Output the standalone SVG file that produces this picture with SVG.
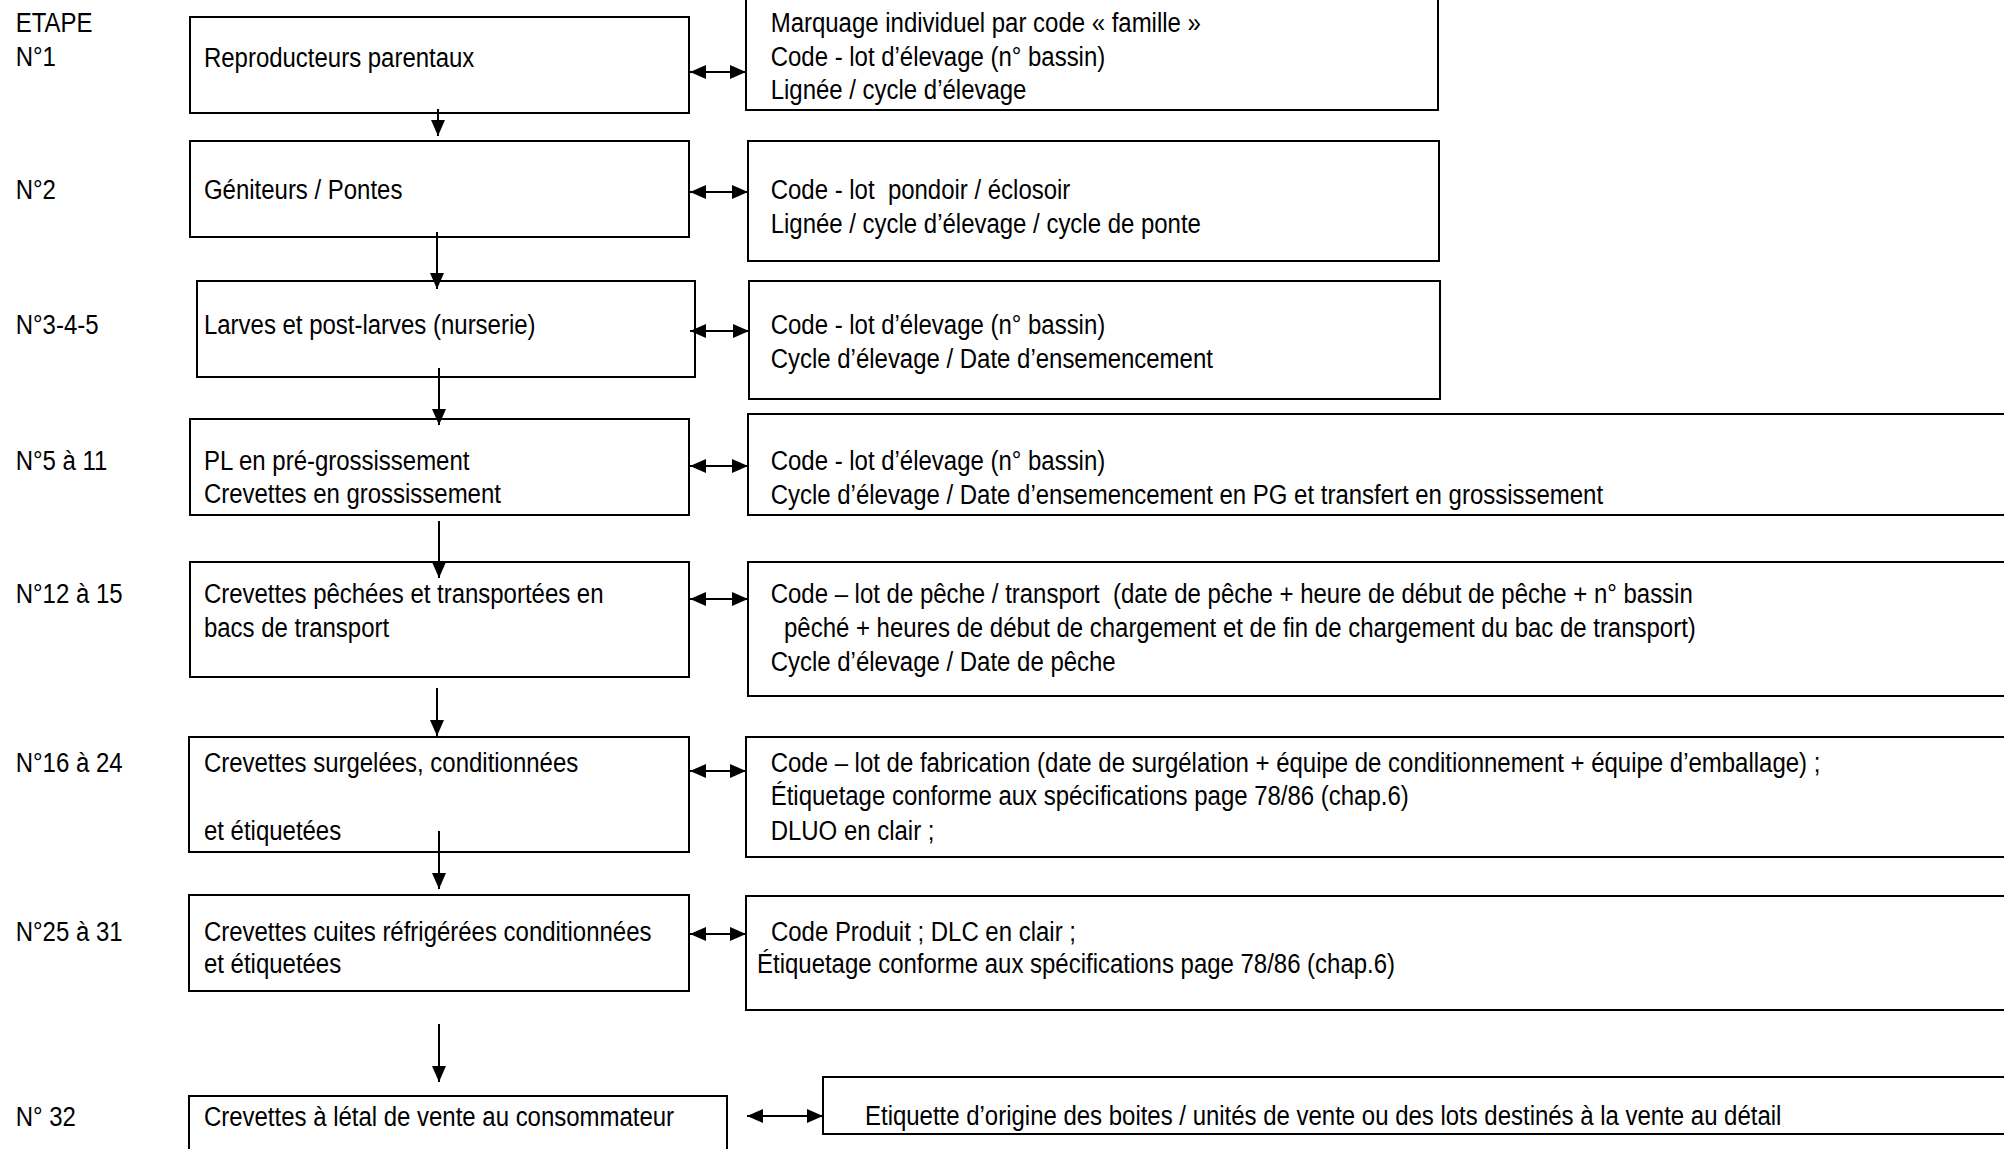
<svg xmlns="http://www.w3.org/2000/svg" width="2004" height="1149" viewBox="0 0 2004 1149">
<defs>
<style>
text{font-family:"Liberation Sans",Arial,sans-serif;font-size:27px;fill:#000}
.box{fill:#fff;stroke:#000;stroke-width:2}
.con{stroke:#000;stroke-width:2;fill:none}
</style>
<marker id="ah" viewBox="0 0 16 14" refX="16" refY="7" markerWidth="16" markerHeight="14" markerUnits="userSpaceOnUse" orient="auto-start-reverse"><path d="M0,0 L16,7 L0,14 z" fill="#000"/></marker>
</defs>
<rect width="2004" height="1149" fill="#fff"/>
<g id="labels" transform="scale(0.888 1)">
<text x="17.7" y="32">ETAPE</text>
<text x="17.7" y="66">N°1</text>
<text x="17.7" y="199">N°2</text>
<text x="17.7" y="334">N°3-4-5</text>
<text x="17.7" y="470">N°5 à 11</text>
<text x="17.7" y="603">N°12 à 15</text>
<text x="17.7" y="772">N°16 à 24</text>
<text x="17.7" y="941">N°25 à 31</text>
<text x="17.7" y="1126">N° 32</text>
</g>
<g id="L1"><rect class="box" x="190" y="17" width="499" height="96"/><g transform="scale(0.888 1)"><text x="229.7" y="67">Reproducteurs parentaux</text></g></g>
<g id="L2"><rect class="box" x="190" y="141" width="499" height="96"/><g transform="scale(0.888 1)"><text x="229.7" y="199">Géniteurs / Pontes</text></g></g>
<g id="L3"><rect class="box" x="197" y="281" width="498" height="96"/><g transform="scale(0.888 1)"><text x="229.7" y="334">Larves et post-larves (nurserie)</text></g></g>
<g id="L4"><rect class="box" x="190" y="419" width="499" height="96"/><g transform="scale(0.888 1)"><text x="229.7" y="470">PL en pré-grossissement</text><text x="229.7" y="503">Crevettes en grossissement</text></g></g>
<g id="L5"><rect class="box" x="190" y="562" width="499" height="115"/><g transform="scale(0.888 1)"><text x="229.7" y="603">Crevettes pêchées et transportées en</text><text x="229.7" y="637">bacs de transport</text></g></g>
<g id="L6"><rect class="box" x="189" y="737" width="500" height="115"/><g transform="scale(0.888 1)"><text x="229.7" y="772">Crevettes surgelées, conditionnées</text><text x="229.7" y="840">et étiquetées</text></g></g>
<g id="L7"><rect class="box" x="189" y="895" width="500" height="96"/><g transform="scale(0.888 1)"><text x="229.7" y="941">Crevettes cuites réfrigérées conditionnées</text><text x="229.7" y="973">et étiquetées</text></g></g>
<g id="L8"><rect class="box" x="189" y="1096" width="538" height="70"/><g transform="scale(0.888 1)"><text x="229.7" y="1126">Crevettes à létal de vente au consommateur</text></g></g>
<g id="R1"><rect class="box" x="746" y="-5" width="692" height="115"/><g transform="scale(0.888 1)"><text x="867.9" y="32">Marquage individuel par code « famille »</text><text x="867.9" y="66">Code - lot d’élevage (n° bassin)</text><text x="867.9" y="99">Lignée / cycle d’élevage</text></g></g>
<g id="R2"><rect class="box" x="748" y="141" width="691" height="120"/><g transform="scale(0.888 1)"><text x="867.9" y="199" xml:space="preserve">Code - lot  pondoir / éclosoir</text><text x="867.9" y="233">Lignée / cycle d’élevage / cycle de ponte</text></g></g>
<g id="R3"><rect class="box" x="749" y="281" width="691" height="118"/><g transform="scale(0.888 1)"><text x="867.9" y="334">Code - lot d’élevage (n° bassin)</text><text x="867.9" y="368">Cycle d’élevage / Date d’ensemencement</text></g></g>
<g id="R4"><rect class="box" x="748" y="414" width="1270" height="101"/><g transform="scale(0.888 1)"><text x="867.9" y="470">Code - lot d’élevage (n° bassin)</text><text x="867.9" y="504">Cycle d’élevage / Date d’ensemencement en PG et transfert en grossissement</text></g></g>
<g id="R5"><rect class="box" x="748" y="562" width="1270" height="134"/><g transform="scale(0.888 1)"><text x="867.9" y="603" xml:space="preserve">Code – lot de pêche / transport  (date de pêche + heure de début de pêche + n° bassin</text><text x="882.9" y="637">pêché + heures de début de chargement et de fin de chargement du bac de transport)</text><text x="867.9" y="671">Cycle d’élevage / Date de pêche</text></g></g>
<g id="R6"><rect class="box" x="746" y="737" width="1272" height="120"/><g transform="scale(0.888 1)"><text x="867.9" y="772">Code – lot de fabrication (date de surgélation + équipe de conditionnement + équipe d’emballage) ;</text><text x="867.9" y="805">Étiquetage conforme aux spécifications page 78/86 (chap.6)</text><text x="867.9" y="840">DLUO en clair ;</text></g></g>
<g id="R7"><rect class="box" x="746" y="896" width="1272" height="114"/><g transform="scale(0.888 1)"><text x="868.2" y="941">Code Produit ; DLC en clair ;</text><text x="852.5" y="973">Étiquetage conforme aux spécifications page 78/86 (chap.6)</text></g></g>
<g id="R8"><rect class="box" x="823" y="1077" width="1195" height="57"/><g transform="scale(0.888 1)"><text x="974.1" y="1125">Etiquette d’origine des boites / unités de vente ou des lots destinés à la vente au détail</text></g></g>
<g id="connectors">
<line class="con" x1="690" y1="72" x2="746" y2="72" marker-start="url(#ah)" marker-end="url(#ah)"/>
<line class="con" x1="690" y1="192" x2="748" y2="192" marker-start="url(#ah)" marker-end="url(#ah)"/>
<line class="con" x1="690" y1="331" x2="749" y2="331" marker-start="url(#ah)" marker-end="url(#ah)"/>
<line class="con" x1="690" y1="466" x2="748" y2="466" marker-start="url(#ah)" marker-end="url(#ah)"/>
<line class="con" x1="690" y1="599" x2="748" y2="599" marker-start="url(#ah)" marker-end="url(#ah)"/>
<line class="con" x1="690" y1="771" x2="746" y2="771" marker-start="url(#ah)" marker-end="url(#ah)"/>
<line class="con" x1="690" y1="934" x2="746" y2="934" marker-start="url(#ah)" marker-end="url(#ah)"/>
<line class="con" x1="747" y1="1116" x2="823" y2="1116" marker-start="url(#ah)" marker-end="url(#ah)"/>
<line class="con" x1="438" y1="109" x2="438" y2="136" marker-end="url(#ah)"/>
<line class="con" x1="437" y1="232" x2="437" y2="289" marker-end="url(#ah)"/>
<line class="con" x1="439" y1="368" x2="439" y2="425" marker-end="url(#ah)"/>
<line class="con" x1="439" y1="521" x2="439" y2="578" marker-end="url(#ah)"/>
<line class="con" x1="437" y1="688" x2="437" y2="736" marker-end="url(#ah)"/>
<line class="con" x1="439" y1="831" x2="439" y2="889" marker-end="url(#ah)"/>
<line class="con" x1="439" y1="1024" x2="439" y2="1082" marker-end="url(#ah)"/>
</g>
</svg>
